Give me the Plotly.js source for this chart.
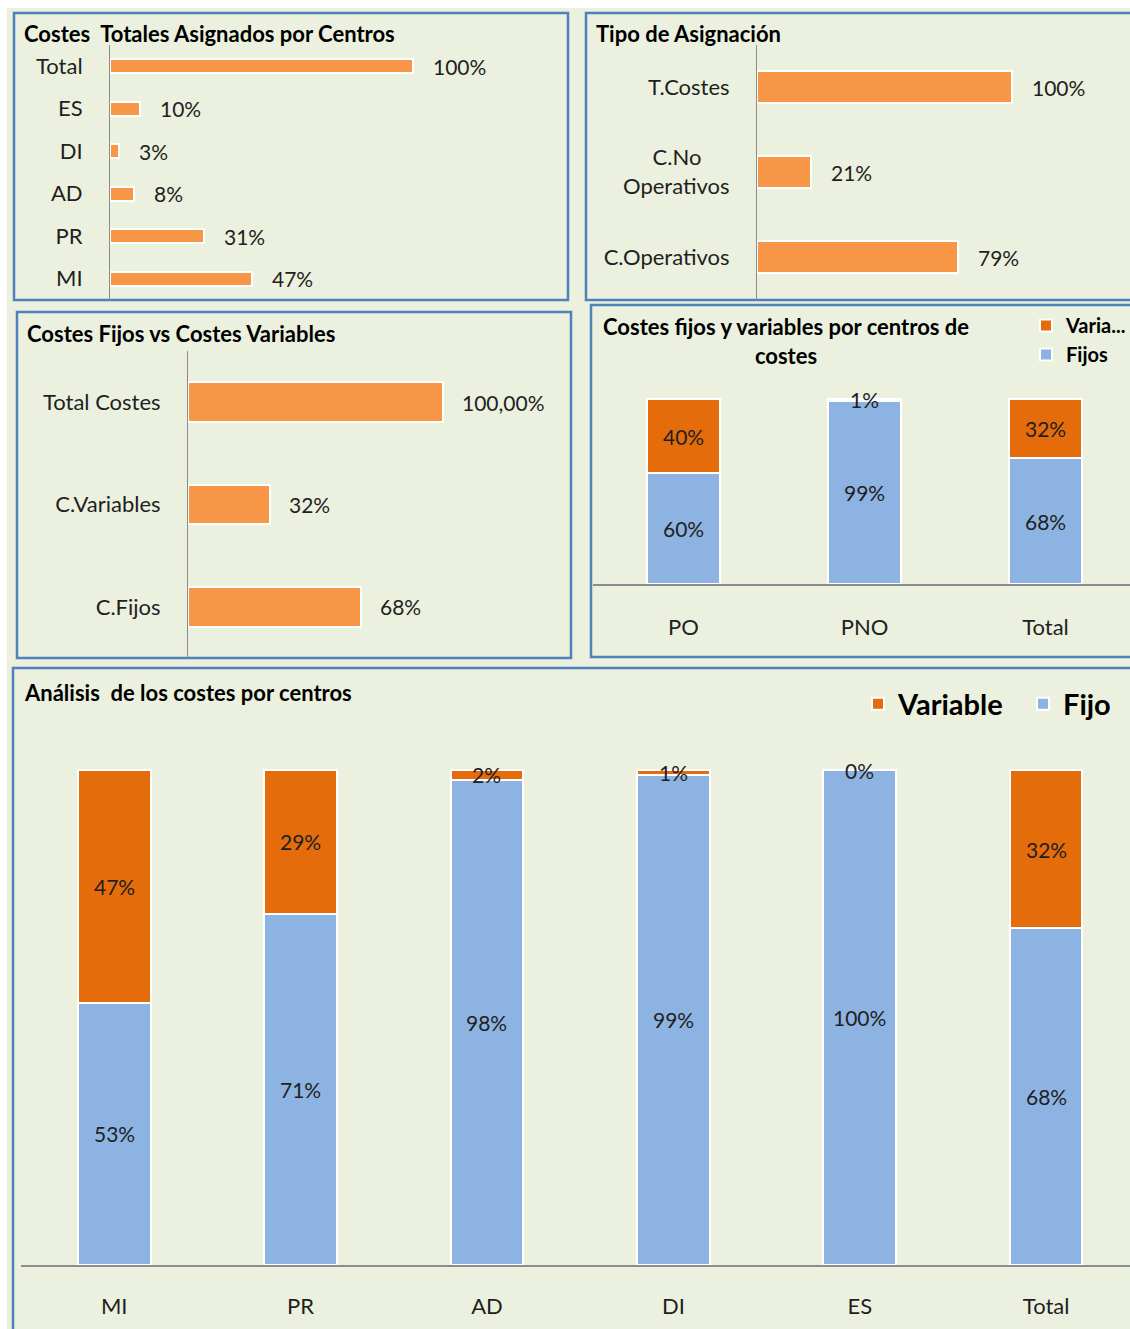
<!DOCTYPE html>
<html>
<head>
<meta charset="utf-8">
<script src="https://cdn.plot.ly/plotly-3.0.1.min.js"></script>
<style>html,body{margin:0;padding:0;background:#fff;}#chart{width:1130px;height:1329px;}</style>
</head>
<body>
<div id="chart"></div>
<script>
// ---- Data ----
const centrosCats = ['Total', 'ES', 'DI', 'AD', 'PR', 'MI'];
const centrosVals = [100, 10, 3, 8, 31, 47];
const centrosLabels = ['100%', '10%', '3%', '8%', '31%', '47%'];

const tipoCats = ['T.Costes', 'C.No Operativos', 'C.Operativos'];
const tipoTicks = ['T.Costes', 'C.No\u00a0\u00a0\u00a0\u00a0\u00a0<br>Operativos', 'C.Operativos'];
const tipoVals = [100, 21, 79];
const tipoLabels = ['100%', '21%', '79%'];

const fvCats = ['Total Costes', 'C.Variables', 'C.Fijos'];
const fvVals = [100, 32, 68];
const fvLabels = ['100,00%', '32%', '68%'];

const pCats = ['PO', 'PNO', 'Total'];
const pFijos = [60, 99, 68];
const pVars = [40, 1, 32];

const aCats = ['MI', 'PR', 'AD', 'DI', 'ES', 'Total'];
const aFijo = [53, 71, 98, 99, 100, 68];
const aVar = [47, 29, 2, 1, 0, 32];

// ---- Styles ----
const W = 1130, H = 1329;
const px = v => v / W;
const py = v => 1 - v / H;
const ORANGE = '#F79646', DORANGE = '#E46C0A', BLUE = '#8DB3E2';
const GREEN = '#EBF1DE', BORDER = '#4F81BD';
const FONT = 'Lato, "Open Sans", sans-serif';
const TXT = '#1f1f1f';
const barLine = {color: '#ffffff', width: 2};

const traces = [
  {type: 'bar', orientation: 'h', x: centrosVals, y: centrosCats, xaxis: 'x', yaxis: 'y',
   marker: {color: ORANGE, line: barLine}, width: 0.33, showlegend: false, hoverinfo: 'skip'},
  {type: 'bar', orientation: 'h', x: tipoVals, y: tipoCats, xaxis: 'x2', yaxis: 'y2',
   marker: {color: ORANGE, line: barLine}, width: 0.38, showlegend: false, hoverinfo: 'skip'},
  {type: 'bar', orientation: 'h', x: fvVals, y: fvCats, xaxis: 'x3', yaxis: 'y3',
   marker: {color: ORANGE, line: barLine}, width: 0.39, showlegend: false, hoverinfo: 'skip'},
  {type: 'bar', name: 'Fijos', x: pCats, y: pFijos, xaxis: 'x4', yaxis: 'y4',
   marker: {color: BLUE, line: barLine}, width: 0.4, legend: 'legend2', legendrank: 2, hoverinfo: 'skip'},
  {type: 'bar', name: 'Varia...', x: pCats, y: pVars, xaxis: 'x4', yaxis: 'y4',
   marker: {color: DORANGE, line: barLine}, width: 0.4, legend: 'legend2', legendrank: 1, hoverinfo: 'skip'},
  {type: 'bar', name: 'Fijo', x: aCats, y: aFijo, xaxis: 'x5', yaxis: 'y5',
   marker: {color: BLUE, line: barLine}, width: 0.39, legend: 'legend', legendrank: 2, hoverinfo: 'skip'},
  {type: 'bar', name: 'Variable', x: aCats, y: aVar, xaxis: 'x5', yaxis: 'y5',
   marker: {color: DORANGE, line: barLine}, width: 0.39, legend: 'legend', legendrank: 1, hoverinfo: 'skip'}
];

const annotations = [];
function hLabels(cats, vals, labels, xa, ya, shift) {
  cats.forEach((c, i) => annotations.push({
    x: vals[i], y: c, xref: xa, yref: ya, text: labels[i], showarrow: false,
    xanchor: 'left', yanchor: 'middle', xshift: shift,
    font: {family: FONT, size: 21, color: TXT}
  }));
}
hLabels(centrosCats, centrosVals, centrosLabels, 'x', 'y', 18);
hLabels(tipoCats, tipoVals, tipoLabels, 'x2', 'y2', 18);
hLabels(fvCats, fvVals, fvLabels, 'x3', 'y3', 17);

function stackLabels(cats, bottom, top, xa, ya, size) {
  cats.forEach((c, i) => {
    annotations.push({x: c, y: bottom[i] / 2, xref: xa, yref: ya, text: bottom[i] + '%',
      showarrow: false, font: {family: FONT, size: size, color: TXT}});
    annotations.push({x: c, y: bottom[i] + top[i] / 2, xref: xa, yref: ya, text: top[i] + '%',
      showarrow: false, font: {family: FONT, size: size, color: TXT}});
  });
}
stackLabels(pCats, pFijos, pVars, 'x4', 'y4', 21);
stackLabels(aCats, aFijo, aVar, 'x5', 'y5', 21);

function title(text, x, y, anchor) {
  annotations.push({xref: 'paper', yref: 'paper', x: px(x), y: py(y), text: text,
    showarrow: false, xanchor: anchor || 'left', yanchor: 'middle', align: 'center',
    font: {family: FONT, size: 22, color: '#000', weight: 'bold'}});
}
title('<b>Costes\u00a0 Totales Asignados por Centros</b>', 22, 34);
title('<b>Tipo de Asignación</b>', 594, 34);
title('<b>Costes Fijos vs Costes Variables</b>', 25, 333);
title('<b>Costes fijos y variables por centros de<br>costes</b>', 786, 341, 'center');
title('<b>Análisis\u00a0 de los costes por centros</b>', 22, 692);

const shapes = [
  {type: 'rect', xref: 'paper', yref: 'paper', x0: px(7), x1: px(1140), y0: py(8), y1: py(1340),
   fillcolor: GREEN, line: {width: 0}, layer: 'below'}
];
[[14, 13, 568, 300], [586, 13, 1135, 300], [17, 312, 571, 658], [591, 305, 1135, 657], [13, 668, 1135, 1340]]
  .forEach(r => shapes.push({type: 'rect', xref: 'paper', yref: 'paper',
    x0: px(r[0]), y0: py(r[1]), x1: px(r[2]), y1: py(r[3]),
    line: {color: BORDER, width: 2.5}, fillcolor: 'rgba(0,0,0,0)', layer: 'below'}));

const tickFont = {family: FONT, size: 22, color: TXT};
const hidden = {showgrid: false, zeroline: false, showticklabels: false, ticks: '', fixedrange: true};
const catY = (dom, n) => ({domain: dom, range: [n - 0.5, -0.5], type: 'category', showgrid: false,
  zeroline: false, showline: true, linecolor: '#8c8c8c', linewidth: 1, ticks: '',
  ticklabelstandoff: 22, tickfont: tickFont, fixedrange: true, automargin: false});
const catX = (dom, rng, standoff) => ({domain: dom, range: rng, type: 'category', showgrid: false,
  zeroline: false, showline: true, linecolor: '#8c8c8c', linewidth: 1.5, ticks: '',
  ticklabelstandoff: standoff, tickfont: tickFont, fixedrange: true, automargin: false});

const layout = {
  width: W, height: H,
  margin: {l: 0, r: 0, t: 0, b: 0, autoexpand: false},
  paper_bgcolor: '#ffffff', plot_bgcolor: 'rgba(0,0,0,0)',
  barmode: 'stack', bargap: 0.6,
  font: {family: FONT, color: TXT},
  xaxis: Object.assign({}, hidden, {domain: [px(110), px(560)], range: [0, 148.5], anchor: 'y'}),
  yaxis: Object.assign(catY([py(300), py(45)], 6), {anchor: 'x'}),
  xaxis2: Object.assign({}, hidden, {domain: [px(757), px(1125)], range: [0, 144.3], anchor: 'y2'}),
  yaxis2: Object.assign(catY([py(299.5), py(44.5)], 3), {anchor: 'x2', tickvals: tipoCats, ticktext: tipoTicks}),
  xaxis3: Object.assign({}, hidden, {domain: [px(188), px(565)], range: [0, 147.8], anchor: 'y3'}),
  yaxis3: Object.assign(catY([py(658), py(351)], 3), {anchor: 'x3'}),
  xaxis4: Object.assign(catX([px(593), 1], [-0.5, 2.467], 23), {anchor: 'y4'}),
  yaxis4: Object.assign({}, hidden, {domain: [py(584), py(390)], range: [0, 104.9], anchor: 'x4'}),
  xaxis5: Object.assign(catX([px(21), 1], [-0.5, 5.45], 21), {anchor: 'y5'}),
  yaxis5: Object.assign({}, hidden, {domain: [py(1265), py(740)], range: [0, 106.06], anchor: 'x5'}),
  legend: {orientation: 'h', x: px(858), y: py(704), xanchor: 'left', yanchor: 'middle',
    bgcolor: 'rgba(0,0,0,0)', font: {family: FONT, size: 29, color: '#000', weight: 'bold'},
    entrywidth: 120, entrywidthmode: 'pixels',
    traceorder: 'normal', itemclick: false, itemdoubleclick: false},
  legend2: {orientation: 'v', x: px(1026), y: py(306), xanchor: 'left', yanchor: 'top',
    bgcolor: 'rgba(0,0,0,0)', font: {family: FONT, size: 20, color: '#000', weight: 'bold'},
    traceorder: 'normal', itemclick: false, itemdoubleclick: false, tracegroupgap: 0},
  annotations: annotations,
  shapes: shapes
};

Plotly.newPlot('chart', traces, layout, {staticPlot: true, displayModeBar: false});
</script>
</body>
</html>
